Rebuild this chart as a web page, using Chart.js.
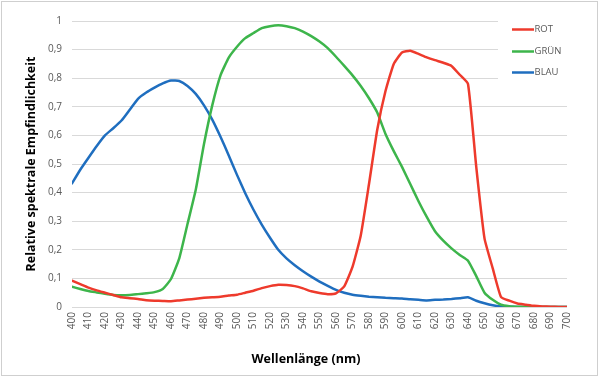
<!DOCTYPE html>
<html>
<head>
<meta charset="utf-8">
<script src="https://cdn.jsdelivr.net/npm/chart.js@4"></script>
<style>
  html, body { margin: 0; padding: 0; background: #ffffff; }
  #wrap { position: relative; width: 602px; height: 380px; }
</style>
</head>
<body>
<div id="wrap"><canvas id="c" width="602" height="380"></canvas></div>
<script>
const wavelengths = [400,405,410,415,420,425,430,435,440,445,450,455,460,465,470,475,480,485,490,495,500,505,510,515,520,525,530,535,540,545,550,555,560,565,570,575,580,585,590,595,600,605,610,615,620,625,630,635,640,645,650,655,660,665,670,675,680,685,690,695,700];

const rot = [0.092,0.080,0.068,0.058,0.050,0.042,0.034,0.031,0.028,0.024,0.022,0.021,0.020,0.023,0.026,0.029,0.032,0.034,0.036,0.040,0.043,0.050,0.057,0.066,0.073,0.078,0.077,0.073,0.065,0.055,0.049,0.045,0.048,0.072,0.140,0.250,0.430,0.620,0.755,0.850,0.890,0.896,0.885,0.873,0.863,0.854,0.843,0.812,0.780,0.490,0.240,0.135,0.035,0.022,0.012,0.008,0.004,0.002,0.001,0.000,0.000];

const gruen = [0.071,0.063,0.056,0.051,0.046,0.042,0.041,0.042,0.045,0.048,0.052,0.063,0.098,0.170,0.290,0.410,0.570,0.705,0.810,0.872,0.910,0.940,0.958,0.975,0.982,0.985,0.982,0.975,0.963,0.947,0.928,0.905,0.875,0.843,0.810,0.773,0.730,0.680,0.605,0.545,0.490,0.430,0.370,0.315,0.265,0.232,0.205,0.182,0.162,0.108,0.050,0.025,0.008,0.003,0.001,0.000,0.000,0.000,0.000,0.000,0.000];

const blau = [0.432,0.480,0.522,0.563,0.600,0.625,0.652,0.690,0.728,0.750,0.767,0.782,0.792,0.790,0.773,0.745,0.705,0.655,0.595,0.530,0.462,0.398,0.340,0.288,0.242,0.200,0.170,0.146,0.125,0.106,0.089,0.074,0.060,0.050,0.043,0.039,0.036,0.034,0.032,0.031,0.030,0.027,0.025,0.023,0.025,0.026,0.028,0.031,0.034,0.022,0.013,0.006,0.002,0.001,0.000,0.000,0.000,0.000,0.000,0.000,0.000];

const seriesNames = ['ROT', 'GRÜN', 'BLAU'];
const seriesColors = ['#ee3a2c', '#3db54b', '#1f6ebf'];
const xTitle = 'Wellenlänge (nm)';
const yTitle = 'Relative spektrale Empfindlichkeit';

const FONT = "'Open Sans', 'Noto Sans', sans-serif";

function pts(vals) { return wavelengths.map((w, i) => ({ x: w, y: vals[i] })); }

const decorPlugin = {
  id: 'decor',
  beforeDraw(chart) {
    const ctx = chart.ctx;
    ctx.save();
    ctx.fillStyle = '#ffffff';
    ctx.fillRect(0, 0, chart.width, chart.height);
    ctx.strokeStyle = '#cfcfcf';
    ctx.lineWidth = 1;
    ctx.strokeRect(1.5, 1.5, 596, 374);
    ctx.restore();
  },
  afterDraw(chart) {
    const ctx = chart.ctx;
    ctx.save();
    ctx.fillStyle = '#ffffff';
    ctx.fillRect(498, 12, 80, 80);
    const rowsY = [29.5, 51.5, 72.5];
    chart.data.datasets.forEach((ds, i) => {
      ctx.strokeStyle = ds.borderColor;
      ctx.lineWidth = 2.5;
      ctx.beginPath();
      ctx.moveTo(512, rowsY[i]);
      ctx.lineTo(534, rowsY[i]);
      ctx.stroke();
      ctx.fillStyle = '#595959';
      ctx.font = "9.5px " + FONT;
      ctx.textBaseline = 'middle';
      ctx.textAlign = 'left';
      ctx.fillText(ds.label, 534.5, rowsY[i]);
    });
    ctx.fillStyle = '#000000';
    ctx.font = "bold 12.5px " + FONT;
    ctx.textAlign = 'center';
    ctx.textBaseline = 'middle';
    ctx.fillText(xTitle, 306, 359);
    ctx.restore();
  }
};

function fmt(v) {
  if (Math.abs(v) < 1e-9) return '0';
  if (Math.abs(v - 1) < 1e-9) return '1';
  return v.toFixed(1).replace('.', ',');
}

new Chart(document.getElementById('c'), {
  type: 'line',
  data: {
    datasets: [
      { label: seriesNames[0], data: pts(rot), borderColor: seriesColors[0], backgroundColor: seriesColors[0] },
      { label: seriesNames[1], data: pts(gruen), borderColor: seriesColors[1], backgroundColor: seriesColors[1] },
      { label: seriesNames[2], data: pts(blau), borderColor: seriesColors[2], backgroundColor: seriesColors[2] }
    ]
  },
  options: {
    responsive: false,
    animation: false,
    devicePixelRatio: 1,
    layout: { padding: { left: 0, right: 35, top: 21, bottom: 0 } },
    elements: {
      line: { borderWidth: 2.5, tension: 0.15, borderJoinStyle: 'round', borderCapStyle: 'round', fill: false },
      point: { radius: 0, hoverRadius: 0 }
    },
    plugins: {
      legend: { display: false },
      tooltip: { enabled: false }
    },
    scales: {
      x: {
        type: 'linear',
        min: 400,
        max: 700,
        grid: { display: false, drawTicks: false },
        border: { display: false },
        afterFit(scale) { scale.height = 73; },
        ticks: {
          stepSize: 10,
          autoSkip: false,
          minRotation: 90,
          maxRotation: 90,
          padding: 5,
          color: '#595959',
          font: { family: FONT, size: 10 },
          callback: (v) => String(v)
        }
      },
      y: {
        min: 0,
        max: 1,
        grid: { color: '#d9d9d9', lineWidth: 1, drawTicks: false },
        border: { display: false },
        afterFit(scale) { scale.width = 72; },
        title: {
          display: true,
          text: yTitle,
          color: '#000000',
          font: { family: FONT, size: 12.5, weight: 'bold' },
          padding: { top: 24, bottom: 0 }
        },
        ticks: {
          stepSize: 0.1,
          padding: 10,
          color: '#595959',
          font: { family: FONT, size: 10 },
          callback: (v) => fmt(v)
        }
      }
    }
  },
  plugins: [decorPlugin]
});
</script>
</body>
</html>
